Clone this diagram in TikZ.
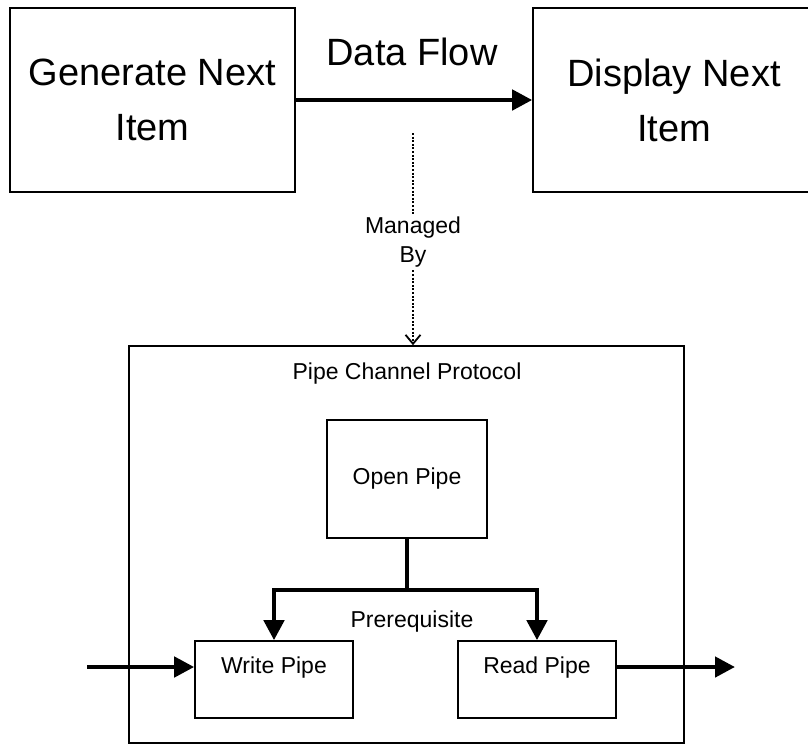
\documentclass[tikz,border=0pt]{standalone}
\usepackage{fontspec}
\setmainfont{Liberation Sans}
\usepackage{tikz}
\usetikzlibrary{calc,arrows.meta}
\tikzstyle{bigbox}=[rectangle,draw=black,line width=1.6pt,inner sep=0pt,
                    font=\fontsize{38}{55}\selectfont,align=center]
\tikzstyle{smallbox}=[rectangle,draw=black,line width=1.6pt,inner sep=0pt,
                      font=\fontsize{23}{29}\selectfont,align=center]
\tikzstyle{smalltext}=[font=\fontsize{23}{29}\selectfont,align=center,inner sep=3pt]
\tikzstyle{flow}=[line width=4.5pt,-{Triangle[length=20pt,width=20pt]}]
\tikzstyle{dotline}=[line width=2.2pt,dash pattern=on 2pt off 1.6pt]
\newcommand\pipeshift{6pt}

\begin{document}
\begin{tikzpicture}[x=1pt,y=-1pt]
    \useasboundingbox (0,0) rectangle (808,745);
    	% top row
    	\node [bigbox,minimum width=285pt,minimum height=184pt] (generate) at (152.5,100) {
    		Generate Next\\Item
    	};
    	\node [bigbox,minimum width=282pt,minimum height=184pt] (display) at (674,100) {
    		Display Next\\Item
    	};
    	\draw [flow] (generate) -- (display);
    	\node [font=\fontsize{38}{55}\selectfont,anchor=base] (dataflow) at (412,65) {Data Flow};
    	% managed by
    	\coordinate (mtop) at (413,133);
    	\node [smalltext] (managedby) at (413,242) {Managed\\By};
    	\node [smallbox,minimum width=555pt,minimum height=397pt] (protocol) at (406.5,544.5) {};
    	\draw [dotline] (mtop) -- (managedby.north);
    	\draw [dotline,-{Straight Barb[length=9pt,width=15pt,line width=1.8pt]}]
    		(managedby.south) -- (managedby.south |- protocol.north);
    	% pipe channel protocol
    	\node [smalltext,anchor=base] (pcptitle) at (407,379) {Pipe Channel Protocol};
    	\node [smallbox,minimum width=160pt,minimum height=118pt] (openpipe) at (407,479) {Open Pipe};
    	\node [smallbox,minimum width=158pt,text height=32pt,text depth=45pt,anchor=base] (writepipe) at (274,673) {Write Pipe};
    	\node [smallbox,minimum width=158pt,text height=32pt,text depth=45pt,anchor=base] (readpipe) at (537,673) {Read Pipe};
    	\coordinate (split) at ($(openpipe.south)+(0,51)$);
    	\draw [line width=4.5pt] (openpipe.south) -- (split);
    	\draw [flow] (split) -| (writepipe.north);
    	\draw [flow] (split) -| (readpipe.north);
    	\node [smalltext,anchor=base] (prereq) at (412,627) {Prerequisite};
    	% in and out
    	\coordinate (pipein) at (87,667);
    	\coordinate (pipeout) at (735,667);
    	\draw [flow] (pipein) -- ([yshift=\pipeshift]writepipe.base west);
    	\draw [flow] ([yshift=\pipeshift]readpipe.base east) -- (pipeout);
    \end{tikzpicture}
\end{document}
